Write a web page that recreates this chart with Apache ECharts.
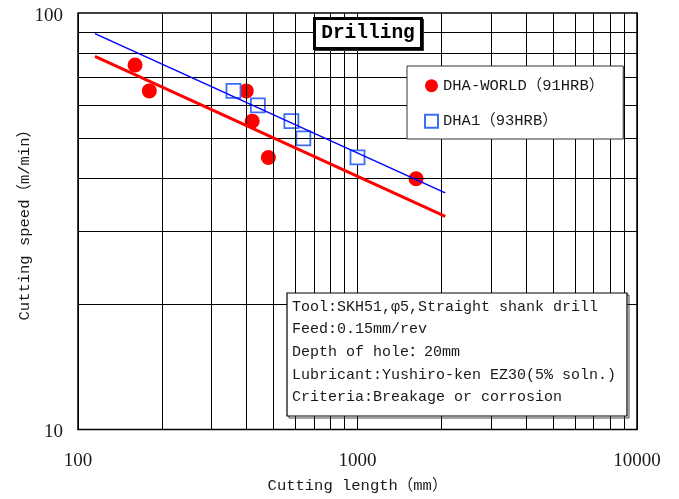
<!DOCTYPE html>
<html>
<head>
<meta charset="utf-8">
<script src="https://cdn.jsdelivr.net/npm/echarts@6/dist/echarts.min.js"></script>
<style>
html,body{margin:0;padding:0;background:#fff;overflow:hidden;}
#chart{width:679px;height:499px;}
</style>
</head>
<body>
<div id="chart"></div>
<script>
// ---- data ----
const worldLength = [160, 180, 400, 420, 480, 1620];
const worldSpeed  = [75, 65, 65, 55, 45, 40];
const dha1Length  = [360, 440, 580, 640, 1000];
const dha1Speed   = [65, 60, 55, 50, 45];
// fitted trend lines (end points)
const worldFitLength = [115, 2060];
const worldFitSpeed  = [78.7, 32.5];
const dha1FitLength  = [115, 2060];
const dha1FitSpeed   = [89.2, 37.0];
// grid lines
const xGridValues = [200, 300, 400, 500, 600, 700, 800, 900, 2000, 3000, 4000, 5000, 6000, 7000, 8000, 9000];
const yGridValues = [20, 30, 40, 50, 60, 70, 80, 90];
const seriesNames = ['DHA-WORLD（91HRB）', 'DHA1（93HRB）'];
const titleText = 'Drilling';
const noteLines = [
  'Tool:SKH51,φ5,Straight shank drill',
  'Feed:0.15mm/rev',
  'Depth of hole：20mm',
  'Lubricant:Yushiro-ken EZ30(5% soln.)',
  'Criteria:Breakage or corrosion'
];
const xAxisName = 'Cutting length（mm）';
const yAxisName = 'Cutting speed（m/min）';

const zip = (a, b) => a.map((v, i) => [v, b[i]]);
const MONO = '"Liberation Mono", "Noto Sans CJK SC", monospace';
const SERIF = '"Liberation Serif", serif';
const TXT = '#1a1a1a';

const chart = echarts.init(document.getElementById('chart'), null, {renderer: 'canvas', width: 679, height: 499});
const option = {
  animation: false,
  backgroundColor: '#fff',
  grid: {left: 78, top: 13, width: 559, height: 418, show: true, borderColor: '#000', borderWidth: 1.5, backgroundColor: 'transparent'},
  xAxis: {
    type: 'log', logBase: 10, min: 100, max: 10000,
    axisLine: {show: false}, axisTick: {show: false},
    axisLabel: {fontFamily: SERIF, fontSize: 19, color: TXT, margin: 22, formatter: v => String(Math.round(v))},
    splitLine: {show: true, lineStyle: {color: '#000', width: 1}},
    minorTick: {show: false}, minorSplitLine: {show: false},
    name: xAxisName, nameLocation: 'middle', nameGap: 49, nameMoveOverlap: false,
    nameTextStyle: {fontFamily: MONO, fontSize: 15.5, color: TXT}
  },
  yAxis: {
    type: 'log', logBase: 10, min: 10, max: 100,
    axisLine: {show: false}, axisTick: {show: false},
    axisLabel: {
      color: TXT, margin: 15,
      formatter: v => '{v|' + Math.round(v) + '}',
      rich: {v: {fontFamily: SERIF, fontSize: 19, color: TXT, padding: [6, 0, 0, 0]}}
    },
    splitLine: {show: false},
    name: yAxisName, nameLocation: 'middle', nameGap: 45, nameMoveOverlap: false,
    nameTextStyle: {fontFamily: MONO, fontSize: 15.5, color: TXT}
  },
  legend: {
    orient: 'vertical', left: 407, top: 66,
    padding: [12, 19, 10, 17], itemGap: 20, itemWidth: 13, itemHeight: 13,
    backgroundColor: '#fff', borderColor: '#333', borderWidth: 1,
    data: seriesNames,
    textStyle: {fontFamily: MONO, fontSize: 15.5, color: TXT, lineHeight: 13},
    z: 6
  },
  series: [
    {
      type: 'line', data: [], z: 1, silent: true,
      markLine: {
        silent: true, symbol: ['none', 'none'], label: {show: false},
        lineStyle: {color: '#000', width: 1, type: 'solid'},
        emphasis: {disabled: true},
        data: xGridValues.map(v => ({xAxis: v})).concat(yGridValues.map(v => ({yAxis: v})))
      }
    },
    {
      name: seriesNames[0], type: 'scatter', symbol: 'circle', symbolSize: 15,
      itemStyle: {color: '#ff0000', opacity: 1}, data: zip(worldLength, worldSpeed), z: 3
    },
    {
      name: seriesNames[1], type: 'scatter', symbol: 'rect', symbolSize: 14,
      itemStyle: {color: '#ffffff', borderColor: '#3b6ef5', borderWidth: 1.8, opacity: 1}, data: zip(dha1Length, dha1Speed), z: 4
    },
    {
      type: 'line', data: zip(worldFitLength, worldFitSpeed), showSymbol: false, symbol: 'none',
      lineStyle: {color: '#ff0000', width: 3}, z: 5, silent: true
    },
    {
      type: 'line', data: zip(dha1FitLength, dha1FitSpeed), showSymbol: false, symbol: 'none',
      lineStyle: {color: '#0000ff', width: 1.5}, z: 5, silent: true
    }
  ],
  graphic: [
    // legend shadow
    {type: 'rect', z: 5, shape: {x: 409, y: 68, width: 215, height: 68}, style: {fill: 'none', stroke: '#444', lineWidth: 1}},
    // title box
    {type: 'rect', z: 20, shape: {x: 316, y: 20, width: 107, height: 30}, style: {fill: 'none', stroke: '#333', lineWidth: 2}},
    {type: 'rect', z: 21, shape: {x: 314.5, y: 18.5, width: 107, height: 30}, style: {fill: '#fff', stroke: '#000', lineWidth: 3}},
    {type: 'text', z: 22, x: 368, y: 33.5, style: {text: titleText, font: 'bold 19.5px ' + MONO, fill: '#000', align: 'center', verticalAlign: 'middle'}},
    // note box
    {type: 'rect', z: 20, shape: {x: 289, y: 295, width: 340, height: 123}, style: {fill: 'none', stroke: '#444', lineWidth: 1}},
    {type: 'rect', z: 21, shape: {x: 287, y: 293, width: 340, height: 123}, style: {fill: '#fff', stroke: '#000', lineWidth: 1.2}},
    {type: 'text', z: 22, x: 292, y: 295.3, style: {text: noteLines.join('\n'), font: '15px ' + MONO, lineHeight: 22.7, fill: TXT, align: 'left', verticalAlign: 'top'}}
  ]
};
chart.setOption(option);
</script>
</body>
</html>
